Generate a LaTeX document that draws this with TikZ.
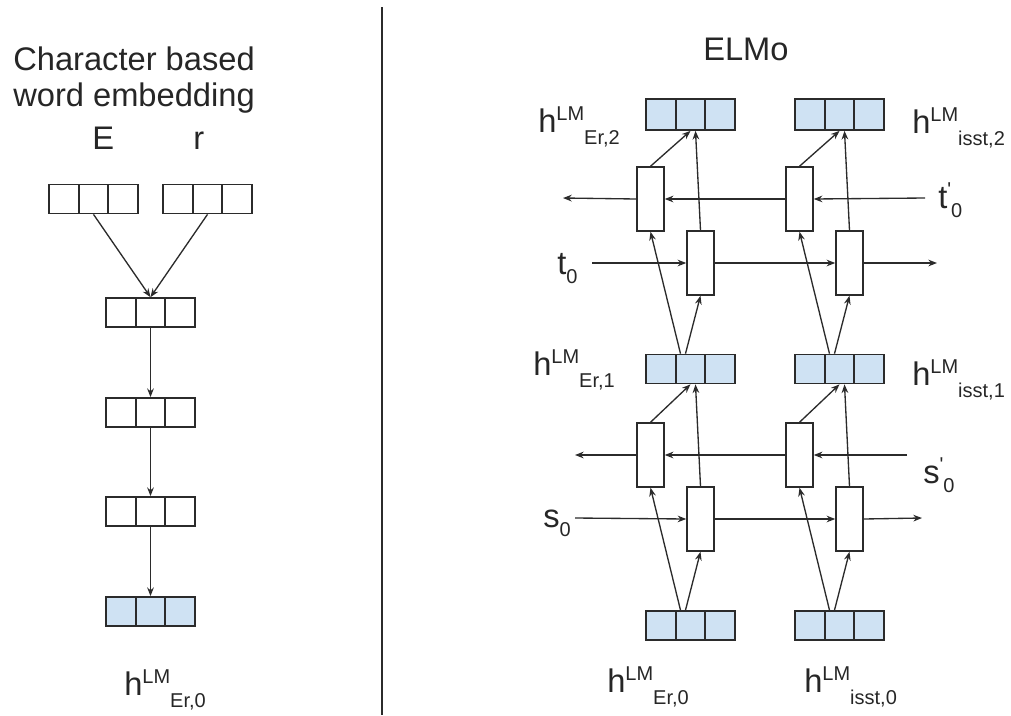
\documentclass[tikz,border=0pt]{standalone}
\usepackage{fontspec}
\setmainfont{Liberation Sans}
\usetikzlibrary{arrows.meta,calc}
\definecolor{cellblue}{HTML}{CFE2F3}
\definecolor{ink}{HTML}{2B2B2B}
\newcommand{\hlm}[1]{h{\fontsize{15}{15}\selectfont\raisebox{8.5pt}{LM}\raisebox{-9pt}{#1}}}
\newcommand{\insub}[2]{#1{\fontsize{15}{15}\selectfont\raisebox{-7pt}{#2}}}
\newcommand{\inprime}[2]{#1{\fontsize{15}{15}\selectfont\raisebox{9pt}{\textquotesingle}\raisebox{-7pt}{#2}}}

\begin{document}
\begin{tikzpicture}[x=0.75pt, y=-0.75pt, every node/.style={font=\fontsize{24.5}{27}\selectfont, text=black!85},
  vec/.style={draw=ink, line width=1.3pt, minimum width=66.75pt, minimum height=21.75pt, inner sep=0pt,
    path picture={\foreach \k in {1,2}{\draw[ink, line width=1.3pt] ($(path picture bounding box.south west)!\k/3!(path picture bounding box.south east)$) -- ($(path picture bounding box.north west)!\k/3!(path picture bounding box.north east)$);}}},
  lm/.style={vec, fill=cellblue},
  cell/.style={draw=ink, line width=1.1pt, fill=white, minimum width=20.25pt, minimum height=48pt, inner sep=0pt},
  arr/.style={-{Stealth[length=6.5pt,width=5pt]}, line width=1pt, draw=ink},
  lab/.style={anchor=base west, inner sep=0pt}]
\useasboundingbox (0,0) rectangle (1011,715);
% character based word embedding
\node[lab, align=left] (title) at (13,106) {Character based\\word embedding};
\node[lab] (lE) at (92,149) {E};
\node[lab] (lr) at (193,149) {r};
\node[vec] (cE) at (93.5,199) {};
\node[vec] (cr) at (207.5,199) {};
\node[vec] (w1) at (150.5,312.5) {};
\node[vec] (w2) at (150.5,412.5) {};
\node[vec] (w3) at (150.5,511.5) {};
\node[lm] (w0) at (150.5,611.5) {};
\node[lab] (lw0) at (124,695) {\hlm{Er,0}};
\draw[arr] (cE.south) -- (w1.north); \draw[arr] (cr.south) -- (w1.north);
\draw[arr] (w1) -- (w2); \draw[arr] (w2) -- (w3); \draw[arr] (w3) -- (w0);
% divider
\coordinate (divtop) at (382,7); \coordinate (divbot) at (382,715);
\draw[ink, line width=1pt] (divtop) -- (divbot);
% ELMo
\node[lab] (elmo) at (703,60) {ELMo};
\node[lm, minimum height=23.25pt] (h2a) at (690.5,114.5) {};
\node[lm, minimum height=23.25pt] (h2b) at (839.5,114.5) {};
\node[lm] (h1a) at (690.5,369) {};
\node[lm] (h1b) at (839.5,369) {};
\node[lm] (h0a) at (690.5,625.5) {};
\node[lm] (h0b) at (839.5,625.5) {};
\node[cell] (bu1) at (650.5,199) {}; \node[cell] (fu1) at (700.5,263) {};
\node[cell] (bu2) at (799.5,199) {}; \node[cell] (fu2) at (849.5,263) {};
\node[cell] (bl1) at (650.5,455) {}; \node[cell] (fl1) at (700.5,519) {};
\node[cell] (bl2) at (799.5,455) {}; \node[cell] (fl2) at (849.5,519) {};
\node[lab] (lh2a) at (538,132) {\hlm{Er,2}};
\node[lab] (lh2b) at (912,133) {\hlm{isst,2}};
\node[lab] (lh1a) at (533,375) {\hlm{Er,1}};
\node[lab] (lh1b) at (912,385) {\hlm{isst,1}};
\node[lab] (lh0a) at (607,692) {\hlm{Er,0}};
\node[lab] (lh0b) at (804,692) {\hlm{isst,0}};
\node[lab] (lt) at (557,274) {\insub{t}{0}};
\node[lab] (ltp) at (938,208) {\inprime{t}{0}};
\node[lab] (ls) at (543,527) {\insub{s}{0}};
\node[lab] (lsp) at (923,483) {\inprime{s}{0}};
\coordinate (tin) at (592,263); \coordinate (tout) at (937,263);
\coordinate (tpin) at (925,198); \coordinate (tpout) at (563,198);
\coordinate (sin) at (575,518); \coordinate (sout) at (922,518);
\coordinate (spin) at (907,455); \coordinate (spout) at (575,455);
% upper layer
\draw[arr] (tin) -- (fu1.west); \draw[arr] (fu1) -- (fu2); \draw[arr] (fu2.east) -- (tout);
\draw[arr] (tpin) -- (bu2.east); \draw[arr] (bu2) -- (bu1); \draw[arr] (bu1.west) -- (tpout);
\draw[arr] ($(h1a.north)+(-10,0)$) -- (bu1.south); \draw[arr] ($(h1a.north)+(-5,0)$) -- (fu1.south);
\draw[arr] ($(h1b.north)+(-10,0)$) -- (bu2.south); \draw[arr] ($(h1b.north)+(-5,0)$) -- (fu2.south);
\draw[arr] (bu1.north) -- (h2a.south); \draw[arr] (fu1.north) -- ($(h2a.south)+(5,0)$);
\draw[arr] (bu2.north) -- (h2b.south); \draw[arr] (fu2.north) -- ($(h2b.south)+(5,0)$);
% lower layer
\draw[arr] (sin) -- (fl1.west); \draw[arr] (fl1) -- (fl2); \draw[arr] (fl2.east) -- (sout);
\draw[arr] (spin) -- (bl2.east); \draw[arr] (bl2) -- (bl1); \draw[arr] (bl1.west) -- (spout);
\draw[arr] ($(h0a.north)+(-10,0)$) -- (bl1.south); \draw[arr] ($(h0a.north)+(-5,0)$) -- (fl1.south);
\draw[arr] ($(h0b.north)+(-10,0)$) -- (bl2.south); \draw[arr] ($(h0b.north)+(-5,0)$) -- (fl2.south);
\draw[arr] (bl1.north) -- (h1a.south); \draw[arr] (fl1.north) -- ($(h1a.south)+(5,0)$);
\draw[arr] (bl2.north) -- (h1b.south); \draw[arr] (fl2.north) -- ($(h1b.south)+(5,0)$);
\end{tikzpicture}
\end{document}
